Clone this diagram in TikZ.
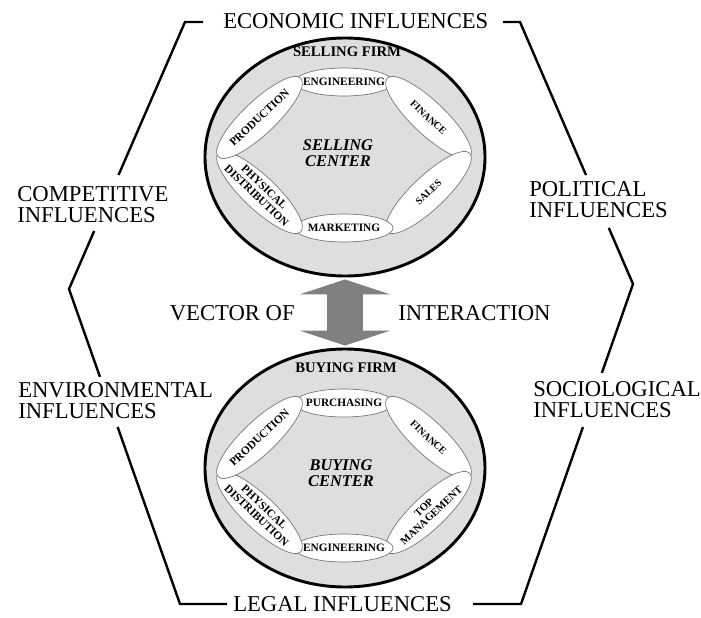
\documentclass[tikz,border=0pt]{standalone}
\usepackage{fontspec}
\setmainfont{Liberation Serif}
\usetikzlibrary{shapes.geometric,arrows.meta,calc}
\definecolor{firmfill}{gray}{0.87}
\definecolor{arrowgray}{gray}{0.5}
\definecolor{deptline}{gray}{0.45}
\newcommand{\zb}[1]{\makebox[0pt]{#1}}
\newcommand{\twol}[2]{\makebox[0pt]{\renewcommand{\arraystretch}{0.9}\begin{tabular}{@{}c@{}}#1\\#2\end{tabular}}}
\tikzset{
  infl/.style={font=\fontsize{17}{15.75}\selectfont, inner sep=0pt, align=left},
  hexline/.style={line width=1.8pt, line join=miter},
  firm/.style={ellipse, draw=black, line width=2.2pt, fill=firmfill, minimum width=210pt, minimum height=178.5pt, inner sep=0pt},
  dept/.style={ellipse, draw=deptline, line width=0.5pt, fill=white, inner sep=0pt, font=\bfseries\fontsize{8.5}{9.5}\selectfont},
  hdept/.style={dept, minimum width=73.5pt, minimum height=21pt},
  sdept/.style={dept, minimum width=85.5pt, minimum height=25pt},
  smallfont/.style={font=\bfseries\fontsize{7.5}{8.5}\selectfont},
  firmlabel/.style={font=\bfseries\fontsize{11}{11}\selectfont, inner sep=0pt},
  ctrlabel/.style={font=\bfseries\itshape\fontsize{12.3}{11.5}\selectfont, inner sep=0pt, align=center},
  vector/.style={draw=arrowgray, line width=27pt, {Triangle[width=68pt,length=11.25pt]}-{Triangle[width=68pt,length=11.25pt]}}
}
\begin{document}
\begin{tikzpicture}[x=0.75pt,y=-0.75pt]
\useasboundingbox (0,0) rectangle (701,618);
% ---------- environment hexagon ----------
\coordinate (TL) at (185,22);
\coordinate (TR) at (520,22);
\coordinate (R) at (633,284);
\coordinate (BR) at (521,604);
\coordinate (BL) at (180,604);
\coordinate (L) at (69,289);
\coordinate (TLe) at (203,22);
\coordinate (TRe) at (503,22);
\coordinate (BLe) at (227,604);
\coordinate (BRe) at (473,604);
\draw[hexline] (TLe) -- (TL) -- ($(TL)!0.573!(L)$);
\draw[hexline] ($(TL)!0.783!(L)$) -- (L) -- ($(L)!0.279!(BL)$);
\draw[hexline] ($(L)!0.438!(BL)$) -- (BL) -- (BLe);
\draw[hexline] (BRe) -- (BR) -- ($(R)!0.447!(BR)$);
\draw[hexline] ($(R)!0.278!(BR)$) -- (R) -- ($(TR)!0.786!(R)$);
\draw[hexline] ($(TR)!0.584!(R)$) -- (TR) -- (TRe);
% ---------- influence labels (base = last line) ----------
\node[infl, anchor=base west] (econ) at (223,28) {ECONOMIC INFLUENCES};
\node[infl, anchor=base west] (legal) at (233,611) {LEGAL INFLUENCES};
\node[infl, anchor=base west] (comp) at (17,222) {COMPETITIVE\\INFLUENCES};
\node[infl, anchor=base west] (envi) at (18,418) {ENVIRONMENTAL\\INFLUENCES};
\node[infl, anchor=base west] (poli) at (529,217) {POLITICAL\\INFLUENCES};
\node[infl, anchor=base west] (soci) at (533,417) {SOCIOLOGICAL\\INFLUENCES};
\node[infl, anchor=base east] (vecof) at (295,320) {VECTOR OF};
\node[infl, anchor=base west] (inter) at (398,320) {INTERACTION};
% ---------- firms ----------
\node[firm] (sell) at (345,157) {};
\node[firm] (buy) at (345,468) {};
\draw[vector] ($(sell.south)+(0,2)$) -- ($(buy.north)+(0,-2)$);
\node[firmlabel] (sfirm) at (347,52) {SELLING FIRM};
\node[firmlabel] (bfirm) at (346,368) {BUYING FIRM};
% selling center departments
\node[hdept] (s-eng) at (344,82) {\zb{ENGINEERING}};
\node[sdept, rotate=-43.5, smallfont] (s-fin) at (428.5,117.5) {\zb{FINANCE}};
\node[sdept, rotate=43.5, smallfont] (s-sal) at (428.5,192.5) {\zb{SALES}};
\node[hdept] (s-mkt) at (344,228) {\zb{MARKETING}};
\node[sdept, rotate=-43.5] (s-phy) at (259.5,192.5) {\twol{PHYSICAL}{DISTRIBUTION}};
\node[sdept, rotate=43.5] (s-pro) at (259.5,117.5) {\zb{PRODUCTION}};
\node[ctrlabel] (s-ctr) at (338,153) {SELLING\\CENTER};
% buying center departments
\node[hdept] (b-pur) at (344,403) {\zb{PURCHASING}};
\node[sdept, rotate=-43.5, smallfont] (b-fin) at (428.5,437.5) {\zb{FINANCE}};
\node[sdept, rotate=43.5, font=\bfseries\fontsize{8}{9}\selectfont] (b-top) at (428.5,512.5) {\twol{TOP}{MANAGEMENT}};
\node[hdept] (b-eng) at (344,548) {\zb{ENGINEERING}};
\node[sdept, rotate=-43.5] (b-phy) at (259.5,512.5) {\twol{PHYSICAL}{DISTRIBUTION}};
\node[sdept, rotate=43.5] (b-pro) at (259.5,437.5) {\zb{PRODUCTION}};
\node[ctrlabel] (b-ctr) at (341,473) {BUYING\\CENTER};
\end{tikzpicture}
\end{document}
